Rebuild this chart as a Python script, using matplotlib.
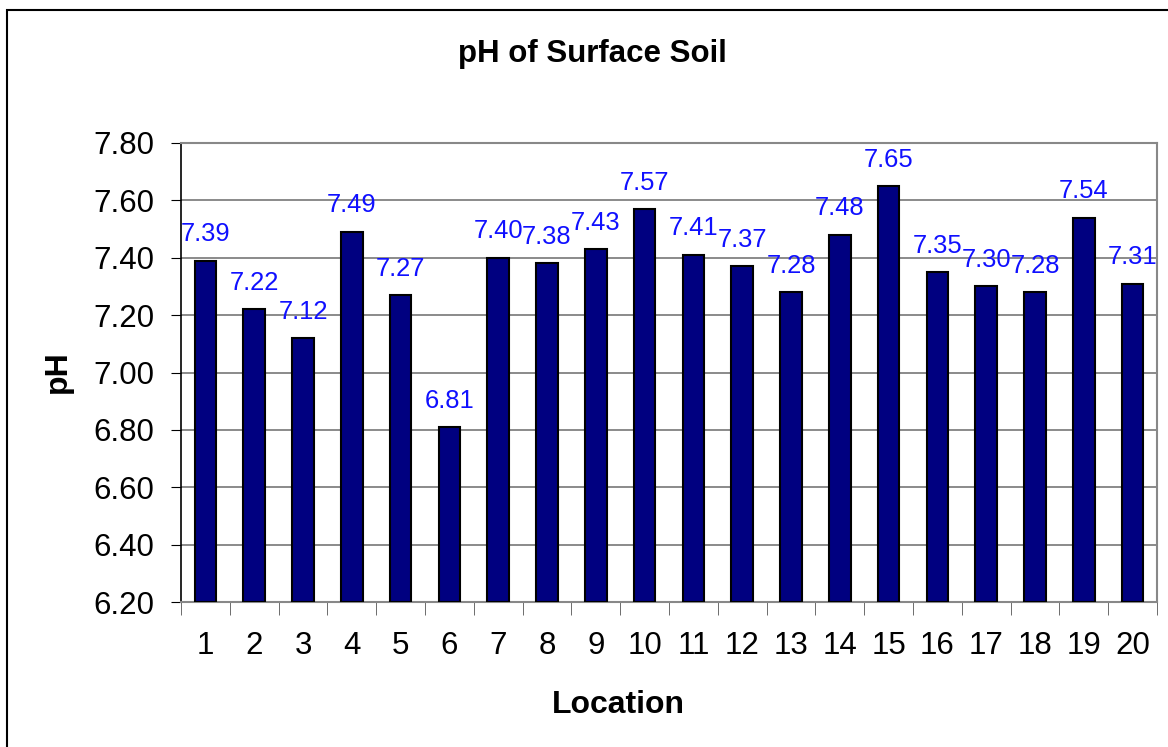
import matplotlib.pyplot as plt
from matplotlib.patches import Rectangle
import numpy as np

plt.rcParams["font.family"] = ["Liberation Sans", "DejaVu Sans"]

locations = [str(i) for i in range(1, 21)]
ph = [7.39, 7.22, 7.12, 7.49, 7.27, 6.81, 7.40, 7.38, 7.43, 7.57,
      7.41, 7.37, 7.28, 7.48, 7.65, 7.35, 7.30, 7.28, 7.54, 7.31]
yticks = [6.20, 6.40, 6.60, 6.80, 7.00, 7.20, 7.40, 7.60, 7.80]

fig = plt.figure(figsize=(11.68, 7.47), dpi=100)
ax = fig.add_axes([181 / 1168, 1 - 602 / 747, (1157 - 181) / 1168, (602 - 143) / 747])

x = np.arange(len(ph))
ax.bar(x, [v - 6.2 for v in ph], bottom=6.2, width=0.44,
       color="#000080", edgecolor="black", linewidth=1.5, zorder=3)

# data labels above each bar
for xi, v in zip(x, ph):
    ax.annotate(f"{v:.2f}", (xi, v), xytext=(0, 14), textcoords="offset points",
                ha="center", va="baseline", color="#1010ff", fontsize=18.4, zorder=4)

ax.set_xlim(-0.5, len(ph) - 0.5)
ax.set_ylim(6.2, 7.8)
ax.set_yticks(yticks)
ax.set_yticklabels([f"{t:.2f}" for t in yticks], fontsize=22.5)
ax.set_xticks(x)
ax.set_xticklabels(locations, fontsize=22.5)
ax.tick_params(axis="x", length=0, pad=21)
ax.set_xticks(np.arange(-0.5, len(ph)), minor=True)
ax.tick_params(axis="x", which="minor", length=9, direction="out", color="#555555")
ax.tick_params(axis="y", length=7, direction="out", color="black", pad=12)

ax.grid(axis="y", color="#777777", linewidth=1.2, zorder=0)
for s in ["top", "right", "bottom"]:
    ax.spines[s].set_color("#888888")
    ax.spines[s].set_linewidth(1.5)
ax.spines["left"].set_color("black")
ax.spines["left"].set_linewidth(1.2)

fig.text(592 / 1168, 1 - 54 / 747, "pH of Surface Soil", ha="center", va="center",
         fontsize=22.5, fontweight="bold")
fig.text(618 / 1168, 1 - 705 / 747, "Location", ha="center", va="center",
         fontsize=23, fontweight="bold")
fig.text(58 / 1168, 1 - 372 / 747, "pH", ha="center", va="center", rotation=90,
         fontsize=23, fontweight="bold")

fig.patches.append(Rectangle((7 / 1168, -0.1), 1.2, 1.1 - 10 / 747, transform=fig.transFigure,
                             fill=False, edgecolor="black", linewidth=1.5))

fig.savefig("out.png", dpi=100)
